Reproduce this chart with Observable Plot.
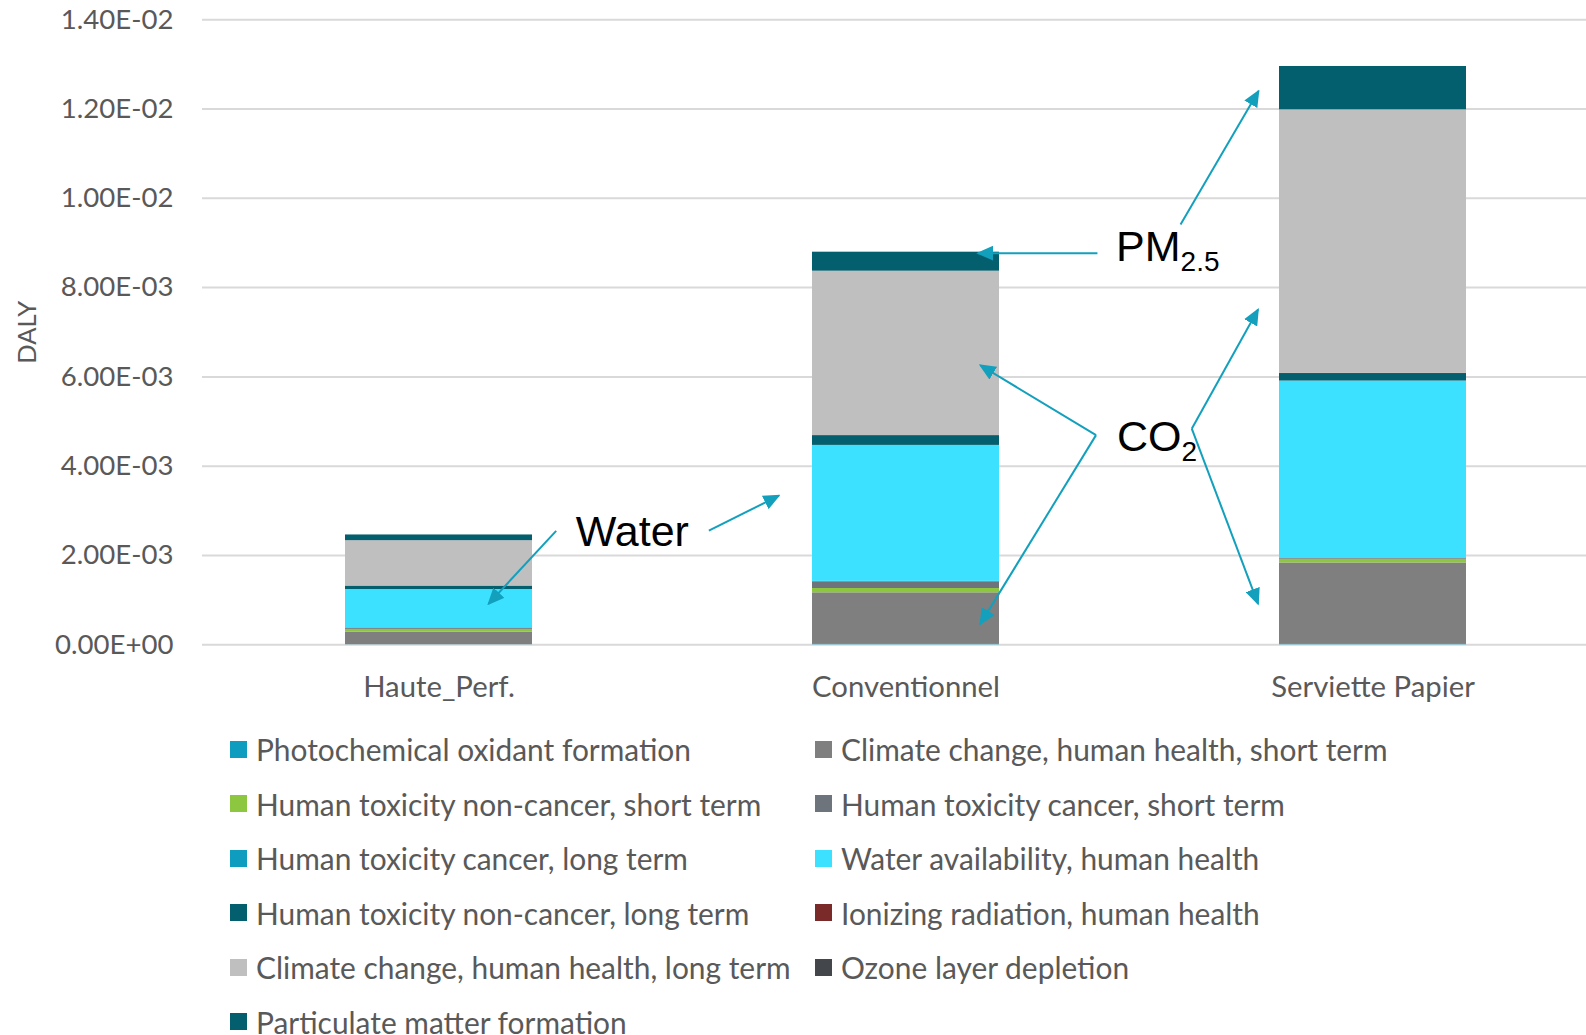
<!DOCTYPE html>
<html><head><meta charset="utf-8">
<script src="https://cdn.jsdelivr.net/npm/d3@7"></script>
<script src="https://cdn.jsdelivr.net/npm/@observablehq/plot@0.6"></script>
<style>
html,body{margin:0;padding:0;background:#fff;overflow:hidden;width:1586px;height:1035px;}
#wrap{position:relative;width:1586px;height:1035px;}
#chart{position:absolute;left:0;top:0;}
#legend{position:absolute;left:230px;top:722px;display:grid;grid-template-columns:585px 760px;grid-auto-rows:54.5px;font-family:Lato, "Noto Sans", sans-serif;font-size:29.9px;color:#595959;}
.item{display:flex;align-items:center;white-space:nowrap}
.sw{width:17px;height:17px;margin-right:9px;flex:none}
</style></head><body><div id="wrap"><div id="chart"></div><div id="legend"></div></div>
<script>
// ---- Data ----
const categories = ["Haute_Perf.", "Conventionnel", "Serviette Papier"];
// stacking order, bottom to top
const seriesNames = [
  "Photochemical oxidant formation",
  "Climate change, human health, short term",
  "Human toxicity non-cancer, short term",
  "Human toxicity cancer, short term",
  "Human toxicity cancer, long term",
  "Water availability, human health",
  "Human toxicity non-cancer, long term",
  "Ionizing radiation, human health",
  "Climate change, human health, long term",
  "Ozone layer depletion",
  "Particulate matter formation"
];
const photochemical   = [0.000003, 0.000008, 0.000008];
const climateShort    = [0.000283, 0.001156, 0.001825];
const htNonCancerShort= [0.000060, 0.000097, 0.000084];
const htCancerShort   = [0.000030, 0.000149, 0.000020];
const htCancerLong    = [0.000004, 0.000010, 0.000010];
const water           = [0.000858, 0.003046, 0.003960];
const htNonCancerLong = [0.000075, 0.000200, 0.000168];
const ionizing        = [0.000004, 0.000020, 0.000006];
const climateLong     = [0.001015, 0.003680, 0.005900];
const ozone           = [0.000001, 0.000002, 0.000003];
const particulate     = [0.000127, 0.000425, 0.000968];
const seriesValues = [photochemical, climateShort, htNonCancerShort, htCancerShort, htCancerLong,
  water, htNonCancerLong, ionizing, climateLong, ozone, particulate];
const seriesColors = ["#0f9dbf", "#7f7f7f", "#8dc63f", "#6d747b", "#0f9dbf", "#3ce1ff",
  "#035e6e", "#7b2a2a", "#bfbfbf", "#43474b", "#035e6e"];
// legend order (row-major, two columns)
const legendOrder = [
  "Photochemical oxidant formation", "Climate change, human health, short term",
  "Human toxicity non-cancer, short term", "Human toxicity cancer, short term",
  "Human toxicity cancer, long term", "Water availability, human health",
  "Human toxicity non-cancer, long term", "Ionizing radiation, human health",
  "Climate change, human health, long term", "Ozone layer depletion",
  "Particulate matter formation"
];
const yTicks = [0, 0.002, 0.004, 0.006, 0.008, 0.010, 0.012, 0.014];
const yLabel = "DALY";

// annotations: [category, offset in band steps, DALY value]
const annoColor = "#12a0bd";
const arrowFrom = [
  ["Haute_Perf.", 0.252, 0.002540], ["Conventionnel", -0.421, 0.002545],
  ["Conventionnel", 0.411, 0.008760], ["Serviette Papier", -0.411, 0.009400],
  ["Conventionnel", 0.408, 0.004685], ["Conventionnel", 0.408, 0.004685],
  ["Serviette Papier", -0.387, 0.004830], ["Serviette Papier", -0.387, 0.004830]
];
const arrowTo = [
  ["Haute_Perf.", 0.107, 0.000905], ["Conventionnel", -0.271, 0.003330],
  ["Conventionnel", 0.155, 0.008760], ["Serviette Papier", -0.244, 0.012390],
  ["Conventionnel", 0.160, 0.006250], ["Conventionnel", 0.160, 0.000452],
  ["Serviette Papier", -0.245, 0.007500], ["Serviette Papier", -0.245, 0.000905]
];
const labelPos = [["Haute_Perf.", 0.294, 0.002205], ["Conventionnel", 0.451, 0.008590], ["Conventionnel", 0.453, 0.004335]];
const labelMain = ["Water", "PM", "CO"];
const labelSub = ["", "2.5", "2"];

// ---- Build table ----
const rows = [];
seriesNames.forEach((s, i) => categories.forEach((c, j) => rows.push({category: c, series: s, value: seriesValues[i][j]})));

const fmt = v => {
  const [m, e] = v.toExponential(2).split("e");
  const sign = e[0] === "-" ? "-" : "+";
  const digits = e.replace(/[+-]/, "").padStart(2, "0");
  return m + "E" + sign + digits;
};

const chart = Plot.plot({
  width: 1586, height: 720,
  marginLeft: 202, marginRight: 0, marginTop: 19.2, marginBottom: 75.7,
  style: {fontFamily: "Lato, 'Noto Sans', sans-serif", color: "#595959", background: "white", overflow: "visible"},
  x: {type: "band", domain: categories, range: [202, 1608.8], paddingInner: 0.6, paddingOuter: 0.306},
  y: {domain: [0, 0.014]},
  color: {domain: seriesNames, range: seriesColors},
  marks: [
    Plot.gridY(yTicks, {stroke: "#d9d9d9", strokeOpacity: 1, strokeWidth: 2}),
    Plot.barY(rows, {x: "category", y: "value", fill: "series"}),
    Plot.axisY(yTicks, {tickSize: 0, tickPadding: 29, fontSize: 27.6, tickFormat: fmt, label: null}),
    Plot.axisX({tickSize: 0, tickPadding: 31, fontSize: 29.3, label: null}),
    Plot.text([yLabel], {frameAnchor: "left", dx: -175, rotate: -90, textAnchor: "middle", fontSize: 25.5, fill: "#595959"})
  ]
});
document.getElementById("chart").appendChild(chart);

// ---- Annotations through chart scales ----
const xs = chart.scale("x"), ys = chart.scale("y");
const px = ([c, o]) => xs.apply(c) + xs.bandwidth / 2 + o * xs.step;
const py = ([, , v]) => ys.apply(v);
const svg = d3.select(chart);
svg.append("defs").append("marker")
  .attr("id", "ah").attr("viewBox", "0 0 10 10").attr("refX", 9).attr("refY", 5)
  .attr("markerUnits", "userSpaceOnUse").attr("markerWidth", 17).attr("markerHeight", 15)
  .attr("orient", "auto").attr("preserveAspectRatio", "none")
  .append("path").attr("d", "M0,0L10,5L0,10z").attr("fill", annoColor);
const g = svg.append("g");
arrowFrom.forEach((f, i) => {
  const t = arrowTo[i];
  g.append("line").attr("x1", px(f)).attr("y1", py(f)).attr("x2", px(t)).attr("y2", py(t))
    .attr("stroke", annoColor).attr("stroke-width", 2).attr("marker-end", "url(#ah)");
});
labelPos.forEach((p, i) => {
  const t = g.append("text").attr("x", px(p)).attr("y", py(p)).attr("text-anchor", "start")
    .attr("font-family", "'Liberation Sans', Arial, sans-serif").attr("font-size", 43).attr("fill", "black")
    .text(labelMain[i]);
  if (labelSub[i]) t.append("tspan").attr("font-size", 28).attr("dy", 10).text(labelSub[i]);
});

// ---- Legend ----
const leg = document.getElementById("legend");
legendOrder.forEach(name => {
  const i = seriesNames.indexOf(name);
  const d = document.createElement("div"); d.className = "item";
  d.innerHTML = `<span class="sw" style="background:${seriesColors[i]}"></span><span>${name}</span>`;
  leg.appendChild(d);
});
</script></body></html>
